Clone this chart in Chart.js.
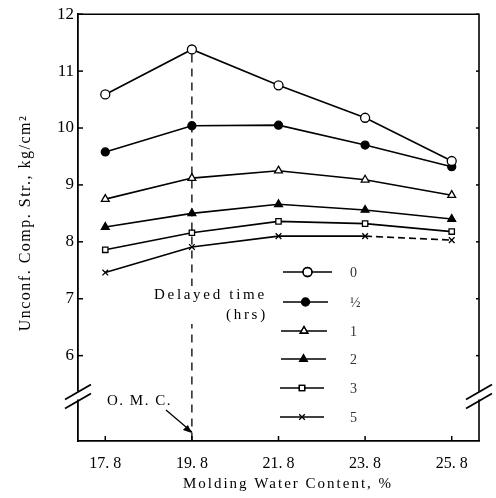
<!DOCTYPE html>
<html>
<head>
<meta charset="utf-8">
<script src="https://cdn.jsdelivr.net/npm/chart.js@4"></script>
<style>
  html, body { margin: 0; padding: 0; background: #fff; }
  #wrap { width: 496px; height: 498px; position: relative; }
</style>
</head>
<body>
<div id="wrap"><canvas id="chart" width="496" height="498"></canvas></div>
<script>
// --- DATA ---
const waterContent = [17.8, 19.8, 21.8, 23.8, 25.8];
const delayLabels = ['0', '½', '1', '2', '3', '5'];
const str0h   = [10.59, 11.38, 10.75, 10.18, 9.42];
const strHalf = [9.58, 10.04, 10.05, 9.70, 9.32];
const str1h   = [8.75, 9.12, 9.25, 9.09, 8.82];
const str2h   = [8.26, 8.50, 8.66, 8.56, 8.40];
const str3h   = [7.86, 8.16, 8.36, 8.32, 8.18];
const str5h   = [7.46, 7.91, 8.10, 8.10, 8.03];
const yTicks = [6, 7, 8, 9, 10, 11, 12];
const omc = 19.8;

const SERIF = '"Liberation Serif", "DejaVu Serif", serif';

// marker style per series
const markers = [
  { pointStyle: 'circle',   radius: 4.5, fill: '#fff' },
  { pointStyle: 'circle',   radius: 4,   fill: '#000' },
  { pointStyle: 'triangle', radius: 4.5, fill: '#fff' },
  { pointStyle: 'triangle', radius: 4.5, fill: '#000' },
  { pointStyle: 'rect',     radius: 3.8, fill: '#fff' },
  { pointStyle: 'crossRot', radius: 4,   fill: '#000' }
];
const seriesVals = [str0h, strHalf, str1h, str2h, str3h, str5h];

const datasets = seriesVals.map((vals, i) => ({
  label: delayLabels[i],
  data: waterContent.map((x, j) => ({ x: x, y: vals[j] })),
  borderColor: '#000',
  borderWidth: 1.6,
  pointStyle: markers[i].pointStyle,
  pointRadius: markers[i].radius,
  pointBackgroundColor: markers[i].fill,
  pointBorderColor: '#000',
  pointBorderWidth: 1.3,
  showLine: true,
  segment: i === 5 ? { borderDash: ctx => ctx.p0DataIndex === 3 ? [7, 4] : undefined } : undefined
}));

function spaced(ctx, px) { if ('letterSpacing' in ctx) ctx.letterSpacing = px + 'px'; }

// --- DECORATION PLUGIN ---
const decor = {
  id: 'decor',
  afterDraw(chart) {
    const ctx = chart.ctx, a = chart.chartArea;
    const xs = chart.scales.x, ys = chart.scales.y;
    ctx.save();
    ctx.strokeStyle = '#000'; ctx.fillStyle = '#000';

    // frame top and right
    ctx.lineWidth = 1.6;
    ctx.beginPath();
    ctx.moveTo(a.left, a.top); ctx.lineTo(a.right, a.top); ctx.lineTo(a.right, a.bottom);
    ctx.stroke();

    // inward ticks
    ctx.lineWidth = 1.5;
    yTicks.forEach(v => {
      const y = ys.getPixelForValue(v);
      ctx.beginPath(); ctx.moveTo(a.left, y); ctx.lineTo(a.left + 5, y); ctx.stroke();
      ctx.beginPath(); ctx.moveTo(a.right, y); ctx.lineTo(a.right - 3, y); ctx.stroke();
    });
    waterContent.forEach(v => {
      const x = xs.getPixelForValue(v);
      ctx.beginPath(); ctx.moveTo(x, a.bottom); ctx.lineTo(x, a.bottom - 5); ctx.stroke();
    });

    // axis breaks
    const yb = ys.getPixelForValue(5.3);
    [a.left, a.right].forEach(x => {
      ctx.fillStyle = '#fff';
      ctx.fillRect(x - 3, yb - 4, 6, 8);
      ctx.strokeStyle = '#000'; ctx.lineWidth = 1.8;
      ctx.beginPath(); ctx.moveTo(x - 13, yb + 4); ctx.lineTo(x + 13, yb - 11); ctx.stroke();
      ctx.beginPath(); ctx.moveTo(x - 13, yb + 13); ctx.lineTo(x + 13, yb - 2); ctx.stroke();
    });
    ctx.fillStyle = '#000';

    // O.M.C. dashed vertical line
    const xo = xs.getPixelForValue(omc);
    ctx.lineWidth = 1.3;
    ctx.setLineDash([8, 6]);
    ctx.beginPath(); ctx.moveTo(xo, ys.getPixelForValue(str0h[1]) + 5); ctx.lineTo(xo, a.bottom); ctx.stroke();
    ctx.setLineDash([]);

    // O.M.C. label + arrow
    ctx.font = '15px ' + SERIF;
    ctx.textAlign = 'left'; ctx.textBaseline = 'middle';
    spaced(ctx, 1.5);
    ctx.fillText('O. M. C.', 107, 401);
    ctx.lineWidth = 1.3;
    ctx.beginPath(); ctx.moveTo(166, 410); ctx.lineTo(xo, 432); ctx.stroke();
    ctx.beginPath(); ctx.moveTo(xo, 433); ctx.lineTo(xo - 9, 430); ctx.lineTo(xo - 4, 425); ctx.closePath(); ctx.fill();

    // "Delayed time (hrs)"
    ctx.fillStyle = '#fff';
    ctx.fillRect(152, 286, 120, 38);
    ctx.fillStyle = '#000';
    spaced(ctx, 2.7);
    ctx.fillText('Delayed time', 154, 295);
    ctx.fillText('(hrs)', 226, 315);
    spaced(ctx, 0);

    // legend
    const rowsY = [272, 302, 331, 359, 388, 417];
    const lineL = [283, 283, 281, 281, 280, 280], lineR = [332, 328, 327, 326, 324, 324];
    chart.data.datasets.forEach((ds, i) => {
      const y = rowsY[i];
      ctx.strokeStyle = '#000'; ctx.lineWidth = 1.6;
      ctx.beginPath(); ctx.moveTo(lineL[i], y); ctx.lineTo(lineR[i], y); ctx.stroke();
      ctx.fillStyle = markers[i].fill;
      ctx.lineWidth = 1.3;
      Chart.helpers.drawPoint(ctx, { pointStyle: markers[i].pointStyle, radius: markers[i].radius, borderWidth: 1.3, rotation: 0 }, (lineL[i] + lineR[i]) / 2, y);
      if (markers[i].fill === '#fff') ctx.stroke();
      ctx.fillStyle = '#333';
      ctx.font = '14px ' + SERIF;
      ctx.textAlign = 'left';
      ctx.fillText(ds.label, 350, y + 1);
    });

    // axis titles
    ctx.fillStyle = '#000';
    ctx.font = '15px ' + SERIF;
    ctx.textAlign = 'center';
    spaced(ctx, 2);
    ctx.fillText('Molding Water Content, %', 288, 484);
    ctx.save();
    ctx.translate(26, 223);
    ctx.rotate(-Math.PI / 2);
    ctx.font = '16px ' + SERIF;
    spaced(ctx, 1.5);
    ctx.fillText('Unconf. Comp. Str., kg/cm²', 0, 0);
    ctx.restore();
    spaced(ctx, 0);

    ctx.restore();
  }
};

new Chart(document.getElementById('chart'), {
  type: 'scatter',
  data: { datasets: datasets },
  options: {
    responsive: false,
    animation: false,
    layout: { padding: { left: 0, top: 14, right: 17, bottom: 0 } },
    plugins: { legend: { display: false }, tooltip: { enabled: false } },
    scales: {
      x: {
        type: 'linear', min: 17.17, max: 26.43,
        afterFit: s => { s.height = 57; },
        afterBuildTicks: s => { s.ticks = waterContent.map(v => ({ value: v })); },
        grid: { display: false, drawTicks: false },
        border: { display: true, color: '#000', width: 1.8 },
        ticks: { color: '#000', padding: 13, font: { family: SERIF, size: 16 }, callback: v => v.toFixed(1).replace('.', '. ') }
      },
      y: {
        type: 'linear', min: 4.5, max: 12,
        afterFit: s => { s.width = 78; },
        afterBuildTicks: s => { s.ticks = yTicks.map(v => ({ value: v })); },
        grid: { display: false, drawTicks: false },
        border: { display: true, color: '#000', width: 1.8 },
        ticks: { color: '#000', padding: 4, font: { family: SERIF, size: 17 }, callback: v => String(v) }
      }
    }
  },
  plugins: [decor]
});
</script>
</body>
</html>
